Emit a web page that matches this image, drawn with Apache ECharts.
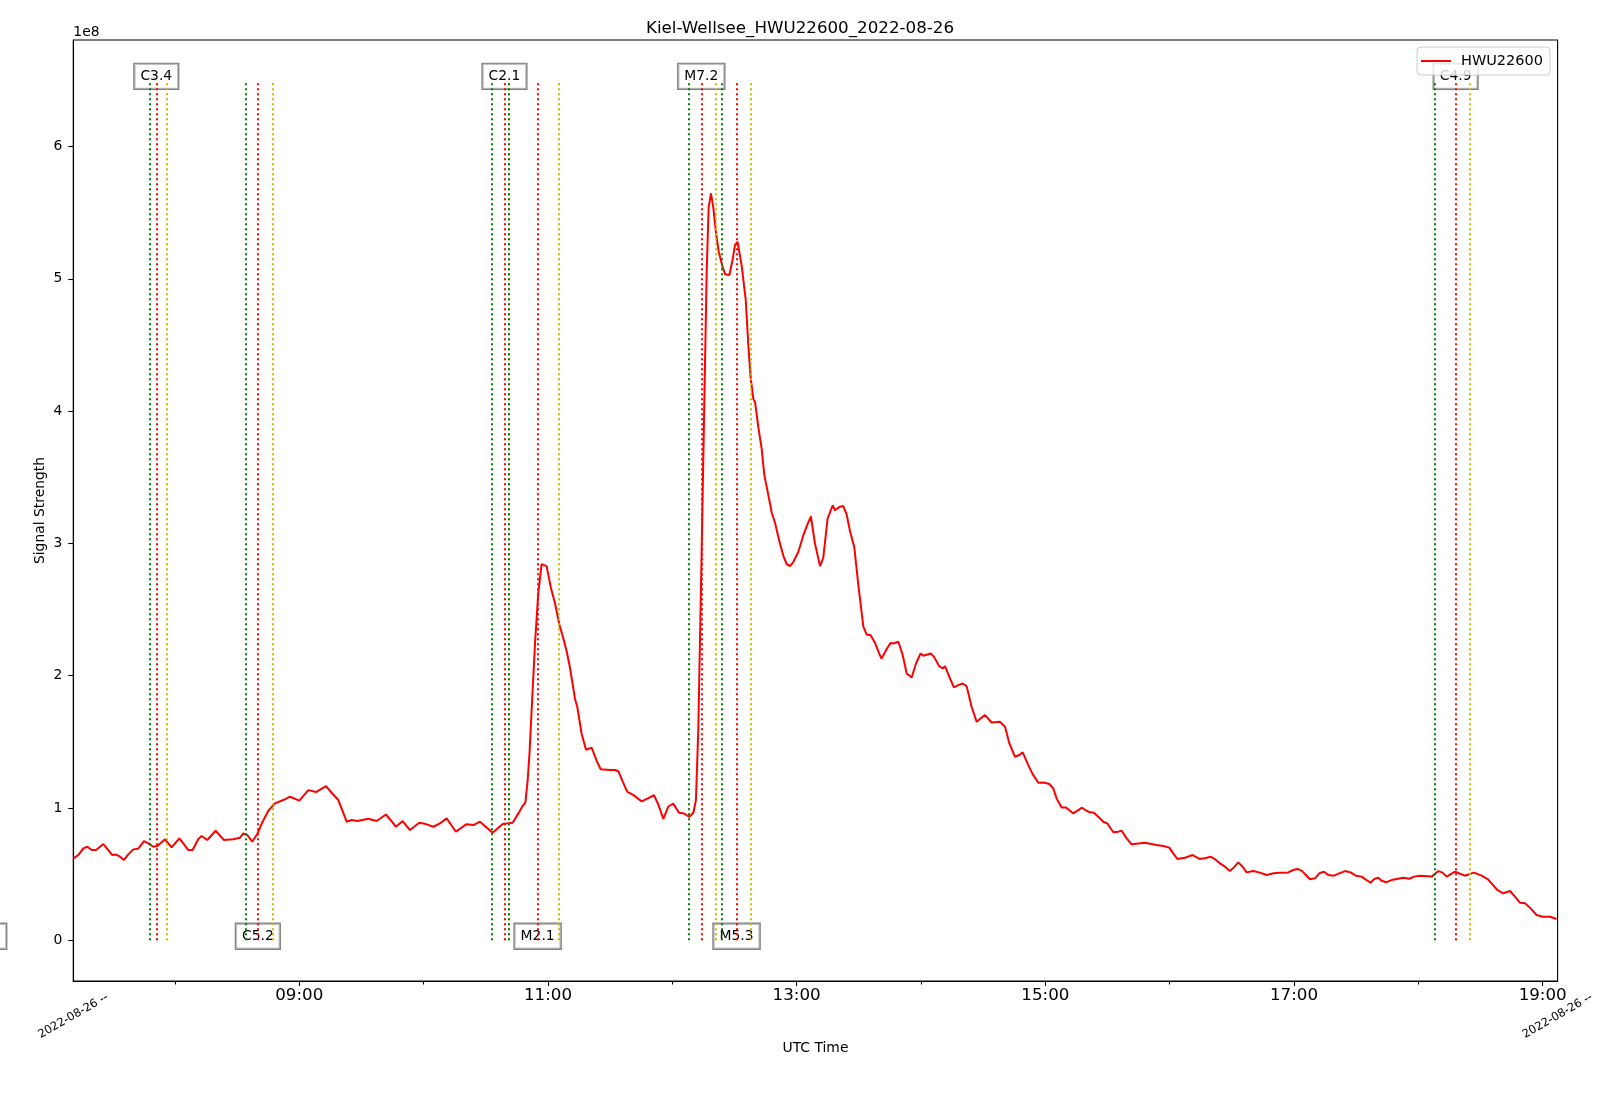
<!DOCTYPE html>
<html>
<head>
<meta charset="utf-8">
<script src="https://cdn.jsdelivr.net/npm/echarts@6/dist/echarts.min.js"></script>
<style>html,body{margin:0;padding:0;background:#fff}#c{width:1600px;height:1102px}</style>
</head>
<body>
<div id="c"></div>
<script>
// ---- data (time in decimal UTC hours, signal in units of 1e8) ----
const timeH = [
7.183,7.223,7.263,7.295,7.330,7.365,7.424,7.464,7.496,7.523,7.558,7.590,7.625,7.665,7.705,7.751,7.786,7.826,7.858,7.920,
7.973,8.035,8.067,8.107,8.142,8.188,8.215,8.260,8.327,8.394,8.469,8.523,8.550,8.582,8.622,8.662,8.705,8.751,8.804,8.871,
8.925,9.000,9.073,9.134,9.215,9.260,9.314,9.381,9.421,9.467,9.555,9.622,9.697,9.778,9.831,9.890,9.965,10.019,10.078,10.131,
10.185,10.260,10.341,10.400,10.453,10.555,10.636,10.716,10.762,10.796,10.818,10.836,10.852,
10.869,10.896,10.922,10.949,10.989,11.022,11.057,11.091,11.124,11.150,11.177,11.217,11.236,11.271,11.306,11.351,11.392,11.424,
11.499,11.539,11.566,11.601,11.638,11.686,11.754,11.807,11.853,11.887,11.928,11.968,12.008,12.054,12.094,12.137,12.169,12.190,
12.209,12.231,12.255,12.276,12.292,12.311,12.330,12.351,12.373,12.402,12.424,12.459,12.485,12.504,12.525,12.558,12.590,12.611,
12.630,12.652,12.665,12.692,12.718,12.740,12.767,12.799,12.826,12.861,12.893,12.920,12.946,12.973,13.014,13.054,13.086,13.115,
13.147,13.188,13.214,13.249,13.290,13.308,13.343,13.375,13.402,13.429,13.464,13.496,13.536,13.563,13.595,13.630,13.670,13.683,
13.724,13.756,13.778,13.818,
13.853,13.885,13.925,13.960,13.997,14.019,14.078,14.105,14.147,14.174,14.193,14.233,14.265,14.300,14.335,14.367,14.407,14.448,
14.480,14.515,14.568,14.635,14.676,14.711,14.756,14.791,14.818,14.863,14.898,14.944,14.989,15.032,15.064,15.091,15.131,15.166,
15.198,15.225,15.265,15.292,15.332,15.359,15.391,15.426,15.466,15.498,15.547,15.587,15.614,15.654,15.694,15.748,15.801,15.895,
15.949,15.997,16.029,16.062,16.123,16.185,16.244,16.292,16.330,16.373,
16.405,16.445,16.485,16.517,16.552,16.587,16.619,16.673,16.726,16.780,16.834,16.887,16.954,16.994,17.027,17.061,17.096,17.128,
17.169,17.204,17.241,17.276,17.322,17.364,17.410,17.455,17.498,17.544,17.584,17.616,17.643,17.678,17.705,17.740,17.785,17.826,
17.879,17.927,17.965,18.013,18.107,18.161,18.195,18.228,18.295,18.375,18.447,18.509,18.557,18.589,18.635,18.683,18.737,18.777,
18.817,18.858,18.903,18.951,19.000,19.059,19.112
];
const signal = [
0.619,0.644,0.695,0.707,0.682,0.682,0.727,0.682,0.644,0.649,0.632,0.607,0.649,0.687,0.692,0.750,0.732,0.707,0.712,0.763,
0.702,0.770,0.732,0.682,0.682,0.765,0.788,0.758,0.828,0.758,0.763,0.775,0.808,0.795,0.745,0.803,0.896,0.979,1.035,1.060,
1.085,1.055,1.135,1.120,1.165,1.115,1.060,0.896,0.909,0.901,0.919,0.901,0.951,0.858,0.901,0.833,0.888,0.878,0.858,0.883,
0.921,0.820,0.876,0.871,0.896,0.813,0.878,0.888,0.959,1.014,1.040,1.200,1.420,
1.747,2.248,2.624,2.843,2.828,2.671,2.546,2.389,2.280,2.186,2.060,1.826,1.763,1.559,1.440,1.456,1.356,1.293,
1.287,1.287,1.278,1.199,1.121,1.099,1.049,1.074,1.096,1.027,0.917,1.011,1.033,0.964,0.958,0.933,0.964,1.058,
1.591,2.687,3.939,5.035,5.536,5.646,5.536,5.348,5.207,5.098,5.035,5.029,5.145,5.254,5.279,5.098,4.847,4.503,
4.252,4.089,4.071,3.877,3.720,3.516,3.391,3.235,3.156,3.015,2.906,2.843,2.828,2.859,2.937,3.062,3.141,3.203,
3.000,2.828,2.890,3.188,3.288,3.250,3.275,3.282,3.219,3.094,2.968,2.687,2.373,2.311,2.305,2.248,2.154,2.129,
2.201,2.248,2.243,2.256,
2.155,2.016,1.986,2.092,2.168,2.150,2.168,2.142,2.072,2.054,2.072,1.979,1.911,1.928,1.941,1.921,1.765,1.651,
1.677,1.702,1.646,1.651,1.614,1.488,1.387,1.400,1.420,1.324,1.256,1.191,1.193,1.181,1.148,1.072,1.004,1.004,
0.979,0.959,0.984,1.002,0.979,0.967,0.964,0.934,0.896,0.884,0.816,0.821,0.828,0.770,0.725,0.732,0.737,0.720,
0.712,0.700,0.657,0.614,0.624,0.644,0.614,0.622,0.632,0.607,
0.581,0.556,0.523,0.551,0.589,0.556,0.513,0.523,0.511,0.493,0.506,0.511,0.513,0.531,0.539,0.526,0.493,0.461,
0.468,0.506,0.518,0.493,0.488,0.506,0.523,0.513,0.488,0.481,0.455,0.435,0.461,0.473,0.450,0.438,0.455,0.463,
0.473,0.465,0.481,0.488,0.481,0.523,0.511,0.481,0.518,0.488,0.511,0.488,0.463,0.430,0.380,0.355,0.372,0.330,
0.284,0.279,0.241,0.191,0.178,0.178,0.161
];

const flareClass = ['C1.5','C3.4','C5.2','C2.1','M2.1','M7.2','M5.3','C4.9'];
const flareStart = ['06:20','07:48','08:34','10:33','10:41','12:08','12:24','18:08'];
const flarePeak  = ['06:28','07:51','08:40','10:39','10:55','12:14','12:31','18:18'];
const flareEnd   = ['06:35','07:56','08:47','10:41','11:05','12:21','12:38','18:25'];
const flareLabelLevels = [0, 6.5];   // labels alternate bottom / top
const vlineBottom = 0, vlineTop = 6.5;

const xMin = 7.1824, xMax = 19.12;      // axis limits (hours)
const yMin = -0.308, yMax = 6.805;      // axis limits (1e8)
const xMajorTicks = [9, 11, 13, 15, 17, 19];
const xMinorTicks = [8, 10, 12, 14, 16, 18];
const yTicks = [0, 1, 2, 3, 4, 5, 6];
const dateLabel = '2022-08-26 --';
const titleText = 'Kiel-Wellsee_HWU22600_2022-08-26';
const seriesName = 'HWU22600';

// ---- build ----
function toH(s){ const p = s.split(':').map(Number); return p[0] + p[1]/60; }
const FONT = 'DejaVu Sans';
function vlines(arr){
  return arr.map(s => [{coord:[toH(s), vlineBottom]}, {coord:[toH(s), vlineTop]}]);
}
function vlineSeries(arr, color){
  return {
    type:'line', data:[], xAxisIndex:0, yAxisIndex:0, silent:true, z:2,
    markLine:{ silent:true, symbol:['none','none'], label:{show:false}, animation:false,
      lineStyle:{color:color, type:[2,3], width:2, opacity:1},
      emphasis:{disabled:true},
      data: vlines(arr) }
  };
}
const lineData = timeH.map((t,i) => [t, signal[i]]);
const labelData = flareClass.map((c,i) => ({ value:[toH(flarePeak[i]), flareLabelLevels[i%2]], name:c }));

const option = {
  animation:false,
  backgroundColor:'#ffffff',
  textStyle:{fontFamily:FONT},
  title:{ text:titleText, left:'center', top:19, padding:0,
    textStyle:{fontFamily:FONT, fontSize:16.7, fontWeight:'normal', color:'#000', lineHeight:20} },
  legend:{ data:[seriesName], right:50, top:47, z:10,
    icon:'rect', itemWidth:30, itemHeight:2,
    padding:[6,7,6,4], borderColor:'#cccccc', borderWidth:1, borderRadius:4,
    backgroundColor:'rgba(255,255,255,0.8)',
    formatter:'{a|{name}}',
    textStyle:{fontFamily:FONT, fontSize:14.5, color:'#000', lineHeight:16,
      rich:{a:{fontFamily:FONT, fontSize:14.5, color:'#000', padding:[0,0,0,5], lineHeight:16}}} },
  grid:{ left:73.3, right:42.4, top:40, bottom:121, show:true, borderColor:'#000', borderWidth:1.1, backgroundColor:'transparent' },
  xAxis:[
    { type:'value', min:xMin, max:xMax, position:'bottom',
      name:'UTC Time', nameLocation:'middle', nameGap:60,
      nameTextStyle:{fontFamily:FONT, fontSize:13.9, color:'#000'},
      axisLine:{show:true, onZero:false, lineStyle:{color:'#000', width:1.1}},
      axisTick:{show:true, customValues:xMajorTicks, length:5, lineStyle:{color:'#000', width:1.1}},
      axisLabel:{show:true, customValues:xMajorTicks, margin:6, fontFamily:FONT, fontSize:16.7, color:'#000',
        formatter:v => String(Math.round(v)).padStart(2,'0') + ':00'},
      splitLine:{show:false} },
    { type:'value', min:xMin, max:xMax, position:'bottom',
      axisLine:{show:false, onZero:false},
      axisTick:{show:true, customValues:xMinorTicks, length:3.5, lineStyle:{color:'#000', width:1.1}},
      axisLabel:{show:true, customValues:[xMin, xMax], rotate:30, align:'center', verticalAlign:'middle',
        margin:35, fontFamily:FONT, fontSize:11.5, color:'#000', formatter:() => dateLabel},
      splitLine:{show:false} }
  ],
  yAxis:[
    { type:'value', min:yMin, max:yMax, position:'left',
      name:'1e8', nameLocation:'end', nameGap:1,
      nameTextStyle:{fontFamily:FONT, fontSize:13.9, color:'#000', align:'left', verticalAlign:'bottom'},
      axisLine:{show:true, onZero:false, lineStyle:{color:'#000', width:1.1}},
      axisTick:{show:true, customValues:yTicks, length:5, lineStyle:{color:'#000', width:1.1}},
      axisLabel:{show:true, customValues:yTicks, margin:11, fontFamily:FONT, fontSize:13.9, color:'#000'},
      splitLine:{show:false} },
    { type:'value', min:yMin, max:yMax, position:'left',
      name:'Signal Strength', nameLocation:'middle', nameGap:25,
      nameTextStyle:{fontFamily:FONT, fontSize:13.9, color:'#000', lineHeight:16},
      axisLine:{show:false}, axisTick:{show:false}, axisLabel:{show:false}, splitLine:{show:false} }
  ],
  series:[
    vlineSeries(flareEnd, '#bfbf00'),
    vlineSeries(flarePeak, '#ff0000'),
    vlineSeries(flareStart, '#008000'),
    { name:seriesName, type:'line', data:lineData, xAxisIndex:0, yAxisIndex:0, z:3,
      showSymbol:false, symbol:'none', smooth:false, clip:true,
      lineStyle:{color:'#ff0000', width:2}, itemStyle:{color:'#ff0000'} },
    { type:'scatter', data:labelData, xAxisIndex:0, yAxisIndex:0, z:4, clip:false, silent:true,
      symbolSize:0.01, itemStyle:{color:'#ffffff', opacity:1},
      label:{ show:true, position:'inside', offset:[0,-4], formatter:p => p.name, opacity:1,
        fontFamily:FONT, fontSize:13.9, color:'#000000', lineHeight:16,
        textBorderWidth:0,
        backgroundColor:'rgba(255,255,255,0.5)', borderColor:'#808080', borderWidth:1.2,
        padding:[4.5,6] } }
  ]
};
const chart = echarts.init(document.getElementById('c'), null, {renderer:'canvas', width:1600, height:1102});
chart.setOption(option);
</script>
</body>
</html>
